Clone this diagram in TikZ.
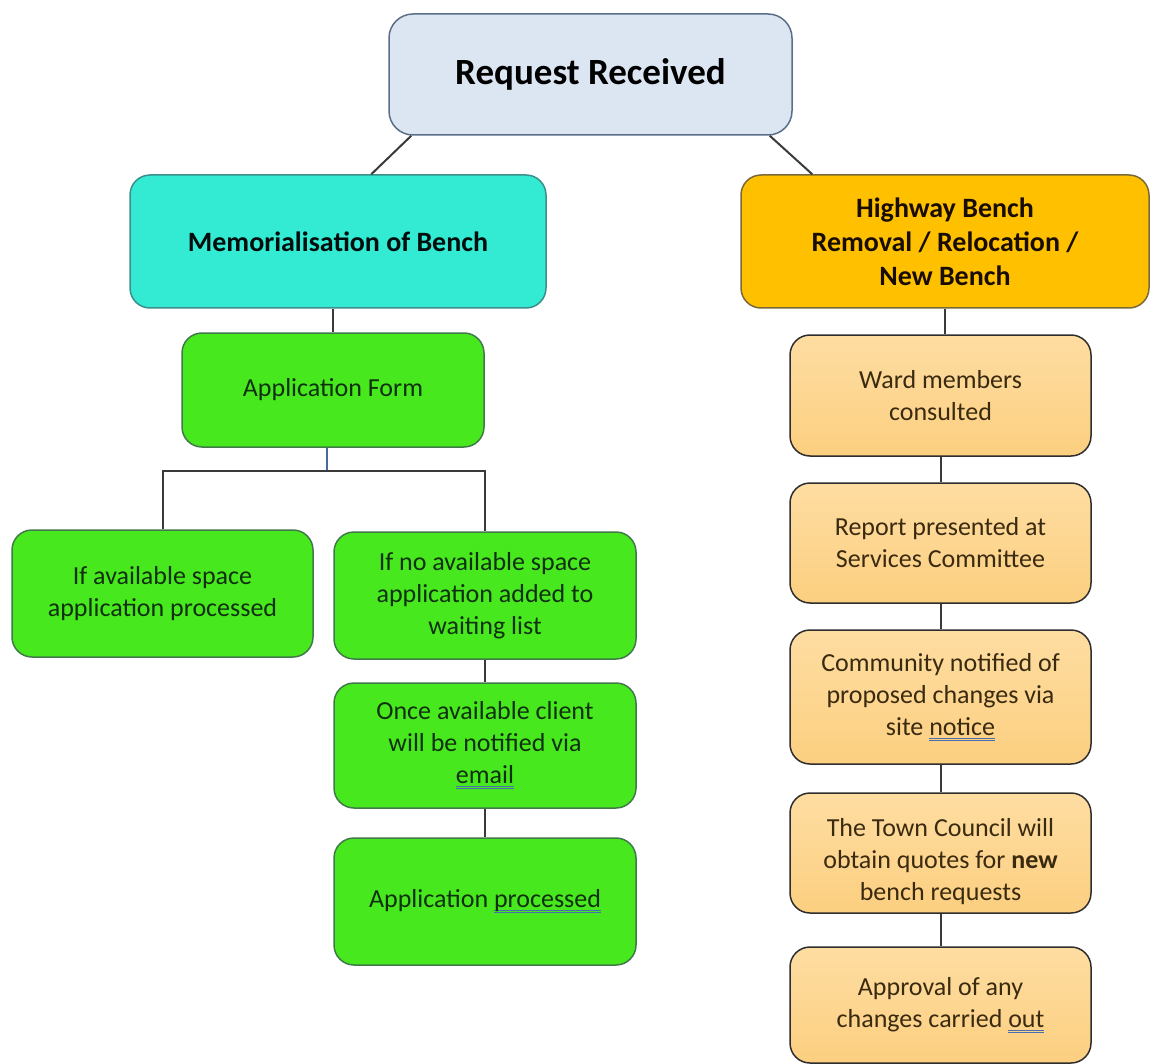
\documentclass[tikz,border=0pt]{standalone}
\usepackage{fontspec}
\setmainfont{Carlito}
\usetikzlibrary{calc}
\definecolor{reqfill}{HTML}{DCE6F2}
\definecolor{reqdraw}{HTML}{5A6E88}
\definecolor{memfill}{HTML}{33EAD2}
\definecolor{memdraw}{HTML}{3C8F8A}
\definecolor{hwyfill}{HTML}{FFC000}
\definecolor{hwydraw}{HTML}{7A6A3A}
\definecolor{grnfill}{HTML}{48E81E}
\definecolor{grndraw}{HTML}{3F7A48}
\definecolor{grntext}{HTML}{0E300E}
\definecolor{orgtop}{HTML}{FEDDA2}
\definecolor{orgbot}{HTML}{FCCF80}
\definecolor{orgdraw}{HTML}{2E2E2E}
\definecolor{orgtext}{HTML}{3A2A10}
\definecolor{connc}{HTML}{3A3A3A}
\definecolor{connb}{HTML}{4A6A9A}
\definecolor{ulblue}{HTML}{4A6FB0}
\newcommand\gul[1]{\setbox0\hbox{#1}\rlap{\textcolor{ulblue}{\rule[-3.4pt]{\wd0}{1pt}}}\rlap{\textcolor{ulblue}{\rule[-5.6pt]{\wd0}{1pt}}}\box0}
\tikzset{
  box/.style={draw, rounded corners=20pt, line width=1.5pt, align=center, inner sep=4pt,
    font=\fontsize{26}{32}\selectfont},
  bigbox/.style={box, font=\bfseries\fontsize{28}{34}\selectfont},
  grn/.style={box, fill=grnfill, draw=grndraw, text=grntext, minimum width=302pt},
  org/.style={box, top color=orgtop, bottom color=orgbot, draw=orgdraw, text=orgtext, minimum width=301pt},
  conn/.style={draw=connc, line width=2pt}
}
\begin{document}
\begin{tikzpicture}[x=1pt,y=-1pt]
\useasboundingbox (0,0) rectangle (1150,1064);
% top
\node[box, rounded corners=24pt, fill=reqfill, draw=reqdraw, text=black, minimum width=403pt, minimum height=121pt,
  font=\bfseries\fontsize{37}{43}\selectfont] (req) at (590.5,74.5) {Request Received};
\node[bigbox, fill=memfill, draw=memdraw, text=black!90!teal, minimum width=416pt, minimum height=133pt] (mem) at (338,241.5) {Memorialisation of Bench};
\node[bigbox, fill=hwyfill, draw=hwydraw, text=black!90!orange, minimum width=408pt, minimum height=133pt] (hwy) at (945,241.5) {Highway Bench\\Removal / Relocation /\\New Bench};
% left branch
\node[grn, minimum height=114pt] (app) at (333,390) {Application Form};
\node[grn, minimum width=301pt, minimum height=127pt] (avail) at (162.5,593.5) {If available space\\application processed};
\node[grn, minimum height=127pt] (noavail) at (485,595.5) {If no available space\\application added to\\waiting list};
\node[grn, minimum height=125pt] (once) at (485,745.5) {Once available client\\will be notified via\\\gul{email}};
\node[grn, minimum height=127pt] (proc) at (485,901.5) {Application \gul{processed}};
% right branch
\node[org, minimum height=121pt] (ward) at (940.5,395.5) {Ward members\\consulted};
\node[org, minimum height=120pt] (report) at (940.5,543) {Report presented at\\Services Committee};
\node[org, minimum height=134pt] (comm) at (940.5,697) {Community notified of\\proposed changes via\\site \gul{notice}};
\node[org, minimum height=120pt] (town) at (940.5,853) {};
\node[align=center, text=orgtext, font=\fontsize{26}{32}\selectfont, anchor=north] (towntxt) at ($(town.north)+(0,23)$) {The Town Council will\\obtain quotes for \textbf{new}\\bench requests};
\node[org, minimum height=116pt] (appr) at (940.5,1005) {Approval of any\\changes carried \gul{out}};
% connectors
\draw[conn] ($(req.south west)+(23,0)$) -- ($(mem.north west)+(242,0)$);
\draw[conn] ($(req.south east)+(-23,0)$) -- ($(hwy.north west)+(72,0)$);
\draw[conn] (app.north) -- (app.north |- mem.south);
\coordinate (j) at (327,471);
\draw[draw=connb, line width=2pt] ($(app.south)+(-6,0)$) -- (j);
\draw[conn] (avail.north) |- (j) -| (noavail.north);
\draw[conn] (noavail.south) -- (once.north);
\draw[conn] (once.south) -- (proc.north);
\draw[conn] (hwy.south) -- (hwy.south |- ward.north);
\draw[conn] (ward.south) -- (report.north);
\draw[conn] (report.south) -- (comm.north);
\draw[conn] (comm.south) -- (town.north);
\draw[conn] (town.south) -- (appr.north);
\end{tikzpicture}
\end{document}
